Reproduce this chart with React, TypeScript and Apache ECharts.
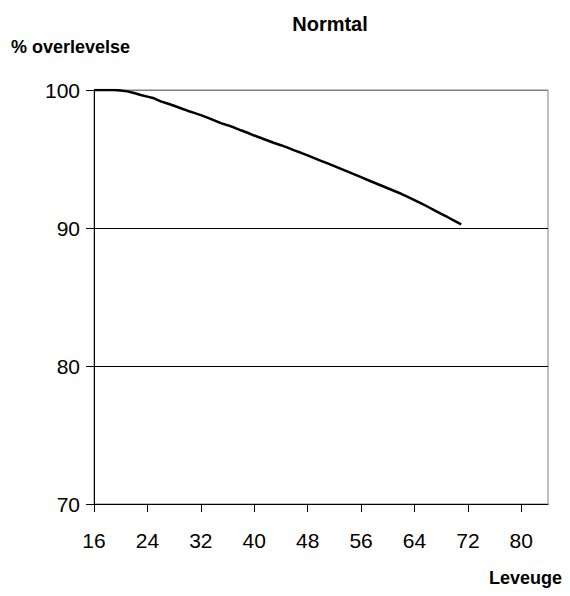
import React, { useEffect, useRef } from "react";
import * as echarts from "echarts";

const ages = [16, 17, 18, 19, 20, 21, 22, 23, 24, 25, 26, 27, 28, 29, 30, 31, 32, 33, 34, 35, 36, 37, 38, 39, 40, 41, 42, 43, 44, 45, 46, 47, 48, 49, 50, 51, 52, 53, 54, 55, 56, 57, 58, 59, 60, 61, 62, 63, 64, 65, 66, 67, 68, 69, 70, 71];
const survival = [100, 100, 100, 100, 99.97, 99.9, 99.78, 99.64, 99.52, 99.4, 99.18, 99.02, 98.86, 98.68, 98.5, 98.34, 98.18, 98.0, 97.8, 97.6, 97.45, 97.28, 97.08, 96.9, 96.7, 96.52, 96.34, 96.16, 96.0, 95.82, 95.63, 95.45, 95.26, 95.06, 94.87, 94.68, 94.48, 94.28, 94.08, 93.88, 93.68, 93.48, 93.28, 93.08, 92.88, 92.68, 92.48, 92.26, 92.02, 91.78, 91.54, 91.28, 91.02, 90.78, 90.52, 90.26];
const xTicks = { min: 16, max: 84, interval: 8 };
const yTicks = { min: 70, max: 100, interval: 10 };
const titleText = "Normtal";
const yName = "% overlevelse";
const xName = "Leveuge";

export default function App() {
  const ref = useRef<HTMLDivElement>(null);
  useEffect(() => {
    if (!ref.current) return;
    const chart = echarts.init(ref.current, null, { renderer: "svg" });
    const font = "Arial, 'Liberation Sans', sans-serif";
    chart.setOption({
      animation: false,
      backgroundColor: "#fff",
      title: {
        text: titleText,
        left: 325,
        top: 9,
        textAlign: "center",
        textStyle: { fontFamily: font, fontWeight: "bold", fontSize: 20, color: "#000" },
      },
      graphic: [
        {
          type: "text",
          left: 11,
          top: 38,
          style: { text: yName, font: `bold 18px ${font}`, fill: "#000" },
        },
        {
          type: "text",
          left: 489,
          top: 569,
          style: { text: xName, font: `bold 18px ${font}`, fill: "#000" },
        },
      ],
      grid: {
        left: 94,
        right: 22,
        top: 90,
        bottom: 92,
        show: true,
        borderColor: "#808080",
        borderWidth: 1,
        containLabel: false,
      },
      xAxis: {
        type: "value",
        min: xTicks.min,
        max: xTicks.max,
        interval: xTicks.interval,
        axisLine: { show: true, lineStyle: { color: "#000", width: 1 } },
        axisTick: { show: true, length: 8, lineStyle: { color: "#000" } },
        splitLine: { show: false },
        axisLabel: {
          color: "#000",
          fontFamily: font,
          fontSize: 21,
          margin: 26,
          showMaxLabel: false,
          formatter: (v: number) => (v === 84 ? "" : String(v)),
        },
      },
      yAxis: {
        type: "value",
        min: yTicks.min,
        max: yTicks.max,
        interval: yTicks.interval,
        axisLine: { show: true, lineStyle: { color: "#000", width: 1 } },
        axisTick: { show: true, length: 8, lineStyle: { color: "#000" } },
        splitLine: { show: true, lineStyle: { color: ["#000", "#000", "#000", "#808080"], width: 1 } },
        axisLabel: { color: "#000", fontFamily: font, fontSize: 21, margin: 14 },
      },
      series: [
        {
          type: "line",
          data: ages.map((a, i) => [a, survival[i]]),
          showSymbol: false,
          symbol: "none",
          lineStyle: { color: "#000", width: 2.5 },
        },
      ],
    });
    return () => chart.dispose();
  }, []);
  return <div ref={ref} style={{ width: 570, height: 596, margin: -8 }} />;
}
